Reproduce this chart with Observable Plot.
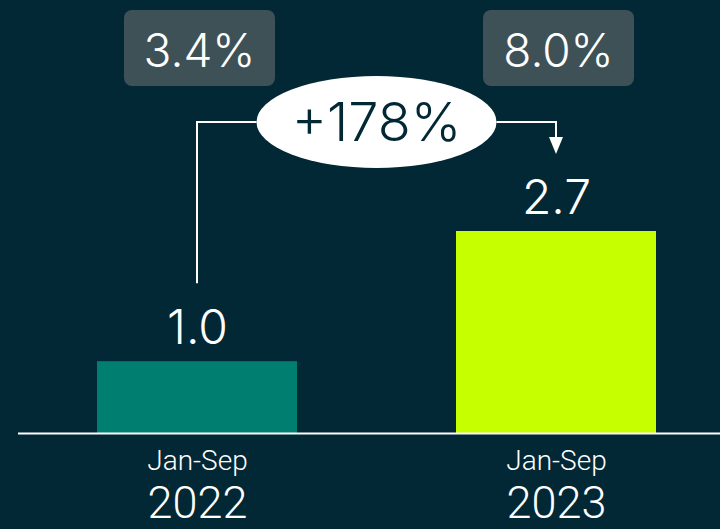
<!DOCTYPE html>
<html><head><meta charset="utf-8">
<script src="https://cdn.jsdelivr.net/npm/d3@7"></script>
<script src="https://cdn.jsdelivr.net/npm/@observablehq/plot@0.6"></script>
<style>
html,body{margin:0;padding:0;background:#022735;}
</style></head><body><div id="chart"></div>
<script>
const years = ["2022", "2023"];
const periods = ["Jan-Sep", "Jan-Sep"];
const values = [0.96, 2.7];
const valueLabels = ["1.0", "2.7"];
const shares = ["3.4%", "8.0%"];
const change = "+178%";
const barColors = ["#007f70", "#c6ff00"];

const BG = "#022735";
const FONT = "Inter, 'Noto Sans', sans-serif";
const NARROW = "Roboto, 'Liberation Sans Narrow', sans-serif";

const data = years.map((y, i) => ({
  year: y, period: periods[i], value: values[i], label: valueLabels[i], share: shares[i], color: barColors[i]
}));

const chart = Plot.plot({
  width: 720, height: 529,
  marginTop: 0, marginBottom: 96, marginLeft: 18, marginRight: 0,
  style: {background: BG, color: "white", fontFamily: FONT, overflow: "visible"},
  x: {domain: years, range: [0, 753], paddingInner: 0.443, paddingOuter: 0.27, axis: null},
  y: {domain: [0, 2.7], range: [433, 231], axis: null},
  marks: [
    Plot.barY(data, {x: "year", y: "value", fill: "color"}),
    Plot.ruleY([0], {stroke: "white", strokeWidth: 2}),
    Plot.text(data, {x: "year", y: "value", text: "label", lineAnchor: "bottom", dy: -18, fill: "white", fontSize: 48, fontWeight: 300}),
    Plot.text(data, {x: "year", y: 0, text: "period", lineAnchor: "bottom", dy: 36, fill: "white", fontSize: 28, fontWeight: 300, fontFamily: NARROW}),
    Plot.text(data, {x: "year", y: 0, text: "year", lineAnchor: "bottom", dy: 84, fill: "white", fontSize: 45, fontWeight: 300, fontFamily: NARROW}),
    Plot.text(data, {x: "year", frameAnchor: "top", text: "share", lineAnchor: "bottom", dx: 2, dy: 66, fill: "white", fontSize: 46, fontWeight: 300})
  ]
});
document.getElementById("chart").appendChild(chart);

// Annotations positioned through the chart's own scales
const xs = chart.scale("x");
const ys = chart.scale("y");
const cx = years.map(y => xs.apply(y) + xs.bandwidth / 2);
const barTop = values.map(v => ys.apply(v));
const svg = d3.select(chart);
const g = svg.insert("g", ":first-child");

// share boxes
g.selectAll("rect").data(cx).join("rect")
  .attr("x", d => d - 73).attr("y", 10).attr("width", 151).attr("height", 76)
  .attr("rx", 8).attr("fill", "#3e5157");

const a = svg.append("g");
const levelY = 122;
const ecx = (cx[0] + cx[1]) / 2;
const erx = 120, ery = 46;
a.append("path")
  .attr("d", `M${cx[0]},${barTop[0] - 78}V${levelY}H${ecx - erx}M${ecx + erx},${levelY}H${cx[1]}V${barTop[1] - 92}`)
  .attr("fill", "none").attr("stroke", "white").attr("stroke-width", 2);
a.append("path")
  .attr("d", `M${cx[1] - 7},${barTop[1] - 94}L${cx[1] + 7},${barTop[1] - 94}L${cx[1]},${barTop[1] - 77}Z`)
  .attr("fill", "white");
a.append("ellipse").attr("cx", ecx).attr("cy", levelY).attr("rx", erx).attr("ry", ery).attr("fill", "white");
a.append("text").attr("x", ecx).attr("y", levelY + 19).attr("text-anchor", "middle")
  .attr("fill", BG).attr("font-size", 54).attr("font-weight", 300).attr("font-family", FONT).text(change);
</script>
</body></html>
